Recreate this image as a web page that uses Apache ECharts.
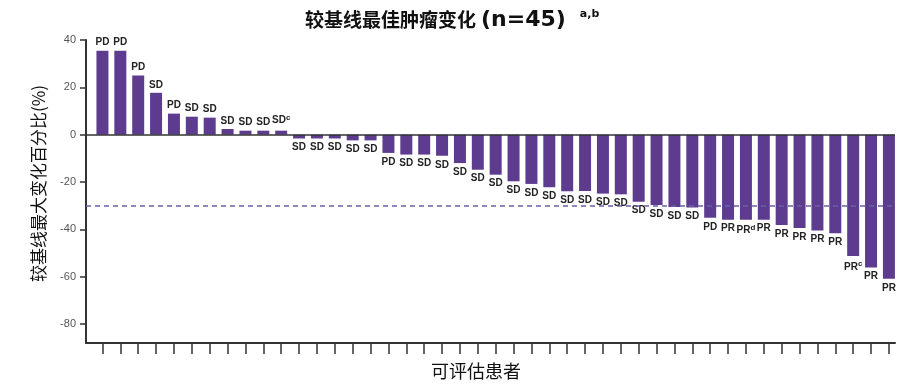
<!DOCTYPE html>
<html>
<head>
<meta charset="utf-8">
<script src="https://cdn.jsdelivr.net/npm/echarts@6/dist/echarts.min.js"></script>
<style>
html,body{margin:0;padding:0;background:#fff;}
#chart{width:920px;height:386px;}
</style>
</head>
<body>
<div id="chart"></div>
<script>
// Patients 1..45 (waterfall order)
const patients = Array.from({length: 45}, (_, i) => i + 1);
// Best % change from baseline
const changes = [
  35.5, 35.5, 25.0, 17.7, 8.9, 7.6, 7.2, 2.4, 1.7, 1.7, 1.7,
  -1.6, -1.6, -1.6, -2.4, -2.4, -7.7, -8.4, -8.4, -8.9, -12.0,
  -14.8, -16.9, -19.7, -20.8, -22.2, -23.9, -23.8, -24.9, -25.2, -28.3,
  -29.7, -30.5, -30.8, -35.1, -35.9, -35.9, -35.9, -38.1, -39.4, -40.5,
  -41.6, -51.3, -56.1, -60.9
];
// Response labels
const responses = [
  'PD','PD','PD','SD','PD','SD','SD','SD','SD','SD','SD',
  'SD','SD','SD','SD','SD','PD','SD','SD','SD','SD',
  'SD','SD','SD','SD','SD','SD','SD','SD','SD','SD',
  'SD','SD','SD','PD','PR','PR','PR','PR','PR','PR',
  'PR','PR','PR','PR'
];
// Superscript notes per bar
const notes = [
  '','','','','','','','','','','c',
  '','','','','','','','','','',
  '','','','','','','','','','',
  '','','','','','d','','','','',
  '','c','',''
];
const yTicks = [-80, -60, -40, -20, 0, 20, 40];
const threshold = -30;

const barColor = '#5d3c90';
const narrow = "'Liberation Sans Narrow', 'Liberation Sans', Arial, sans-serif";

const data = patients.map((p, i) => {
  const v = changes[i];
  const txt = responses[i] + (notes[i] ? '{sup|' + notes[i] + '}' : '');
  return {
    value: [p, v],
    label: {
      show: true,
      position: v >= 0 ? 'top' : 'bottom',
      distance: v >= 0 ? 3 : 4,
      formatter: txt
    }
  };
});

const chart = echarts.init(document.getElementById('chart'), null, {renderer: 'canvas'});
chart.setOption({
  animation: false,
  backgroundColor: '#fff',
  title: {
    text: '{t|较基线最佳肿瘤变化} {n|(n=45)}{s|a,b}',
    left: 300,
    top: 4,
    textStyle: {
      rich: {
        t: {fontSize: 19, fontWeight: 'bold', color: '#111', fontFamily: "'Noto Sans CJK SC', sans-serif"},
        n: {fontSize: 22, fontWeight: 'bold', color: '#111', fontFamily: "'DejaVu Sans', sans-serif"},
        s: {fontSize: 11, fontWeight: 'bold', color: '#111', fontFamily: "'DejaVu Sans', sans-serif", verticalAlign: 'top', padding: [0, 0, 9, 14]}
      }
    }
  },
  grid: {left: 86, right: 25, top: 40, bottom: 43, containLabel: false},
  xAxis: {
    type: 'value',
    min: 0.08,
    max: 45.34,
    name: '可评估患者',
    nameLocation: 'middle',
    nameGap: 19,
    nameTextStyle: {fontSize: 18, color: '#111', fontFamily: "'Noto Sans CJK SC', sans-serif", verticalAlign: 'top', padding: [0, 29, 0, 0]},
    axisLine: {show: true, onZero: false, lineStyle: {color: '#333', width: 2}},
    axisTick: {show: true, length: 11, customValues: patients, lineStyle: {color: '#333', width: 1.5}},
    axisLabel: {show: false},
    splitLine: {show: false}
  },
  yAxis: {
    type: 'value',
    min: -88,
    max: 40,
    name: '较基线最大变化百分比(%)',
    nameLocation: 'middle',
    nameGap: 39,
    nameTextStyle: {fontSize: 17, color: '#111', fontFamily: "'Noto Sans CJK SC', sans-serif", padding: [0, 0, 0, 16]},
    axisLine: {show: true, lineStyle: {color: '#333', width: 2}},
    axisTick: {show: true, length: 6, customValues: yTicks, lineStyle: {color: '#333', width: 1.5}},
    axisLabel: {show: true, customValues: yTicks, margin: 10, fontSize: 11, color: '#555', fontFamily: narrow},
    splitLine: {show: false}
  },
  series: [{
    type: 'bar',
    data: data,
    barWidth: 12,
    itemStyle: {color: barColor},
    label: {
      show: true,
      fontSize: 10,
      fontWeight: 'bold',
      color: '#222',
      fontFamily: narrow,
      rich: {
        sup: {fontSize: 8, fontWeight: 'bold', color: '#222', fontFamily: narrow, verticalAlign: 'top', padding: [0, 0, 6, 0]}
      }
    },
    markLine: {
      silent: true,
      symbol: 'none',
      label: {show: false},
      data: [
        {yAxis: 0, lineStyle: {color: '#333', width: 1.5, type: 'solid'}},
        {yAxis: threshold, lineStyle: {color: '#6b5fa5', width: 1.5, type: [5, 4]}}
      ]
    }
  }]
});
</script>
</body>
</html>
